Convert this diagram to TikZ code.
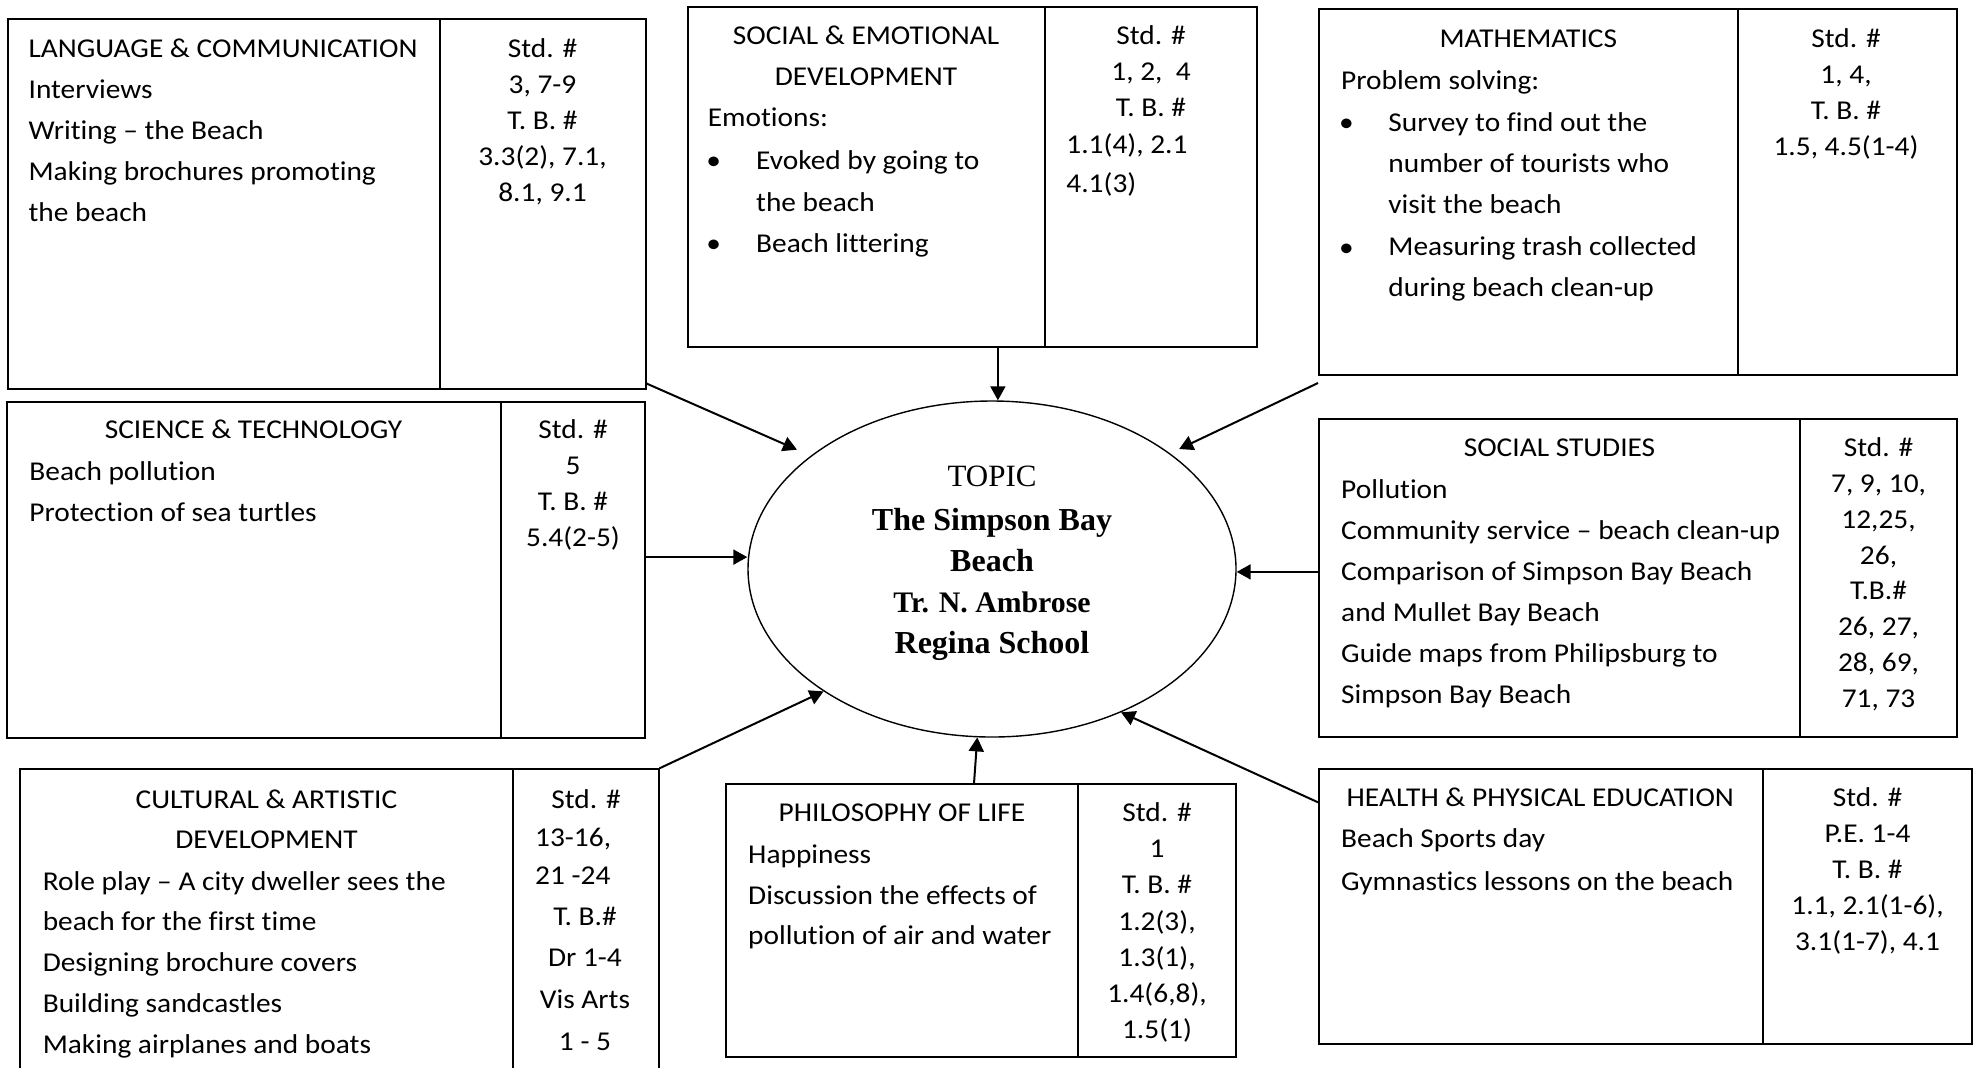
\documentclass[tikz,border=0pt]{standalone}
\usepackage{fontspec}
\setmainfont{Carlito}[FakeStretch=1.08,Ligatures=NoCommon]
\newfontfamily\serifface{Liberation Serif}
\usetikzlibrary{arrows.meta,shapes.geometric,fit}

% one text node per row: name prefix, anchor, x, first baseline y, row pitch, rows
\newcommand\textrows[6]{%
  \foreach \rowtext [count=\i from 0] in {#6}{%
    \node[txt,anchor=#2] (#1\i) at (#3,{#4+\i*#5}) {\rowtext};}}

\begin{document}
\begin{tikzpicture}[x=0.5pt,y=-0.5pt,
  box/.style={draw,line width=1pt,inner sep=0pt},
  txt/.style={inner sep=0pt,font=\fontsize{13.6}{16}\selectfont},
  ttl/.style={inner sep=0pt,anchor=base,font=\serifface\fontsize{15.5}{18}\selectfont},
  ttlbold/.style={ttl,font=\serifface\bfseries\fontsize{#1}{18}\selectfont},
  link/.style={line width=1pt,-{Triangle[length=7pt,width=7.5pt]}},
  dot/.style={txt,anchor=base}]
\useasboundingbox (0,0) rectangle (1973,1067);
\fill[white] (0,0) rectangle (1973,1067);

% ---- panels: subject column and standards column ----
\node[box,fit={(7.5,19.3) (440,388.5)}] (lang) {};
\node[box,fit={(440,19.3) (645.5,388.5)}] (langstd) {};
\node[box,fit={(687.6,7.3) (1045,346.7)}] (soc) {};
\node[box,fit={(1045,7.3) (1256.6,346.7)}] (socstd) {};
\node[box,fit={(1319,9.3) (1738,375)}] (math) {};
\node[box,fit={(1738,9.3) (1957,375)}] (mathstd) {};
\node[box,fit={(6.7,401.7) (501,737.7)}] (sci) {};
\node[box,fit={(501,401.7) (645,737.7)}] (scistd) {};
\node[box,fit={(1319,419.3) (1800,737.3)}] (ss) {};
\node[box,fit={(1800,419.3) (1957,737.3)}] (ssstd) {};
\node[box,fit={(20,769.3) (513.4,1090)}] (cul) {};
\node[box,fit={(513.4,769.3) (658.5,1090)}] (culstd) {};
\node[box,fit={(726,784.3) (1078,1056.7)}] (phil) {};
\node[box,fit={(1078,784.3) (1235.8,1056.7)}] (philstd) {};
\node[box,fit={(1319,769.3) (1763,1044)}] (hpe) {};
\node[box,fit={(1763,769.3) (1971.5,1044)}] (hpestd) {};

% ---- central topic ----
\node[draw,ellipse,line width=0.7pt,minimum width=244pt,minimum height=168pt,inner sep=0pt] (topic) at (992,569) {};
\node[ttl] (topichead) at (992,486.7) {TOPIC};
\node[ttlbold=16] (topicrow0) at (992,530) {The Simpson Bay};
\node[ttlbold=16] (topicrow1) at (992,571.1) {Beach};
\node[ttlbold=14.9] (topicrow2) at (992,612.2) {Tr. N. Ambrose};
\node[ttlbold=16] (topicrow3) at (992,653.3) {Regina School};

% ---- Language & Communication ----
\textrows{langrow}{base west}{28.2}{57.3}{41.1}{LANGUAGE \& COMMUNICATION,Interviews,Writing – the Beach,Making brochures promoting,the beach}
\textrows{langstdrow}{base}{542.5}{57.3}{36.1}{Std. \#,{3, 7-9},T. B. \#,{3.3(2), 7.1,},{8.1, 9.1}}

% ---- Social & Emotional Development ----
\textrows{socttl}{base}{866}{44}{41}{SOCIAL \& EMOTIONAL,DEVELOPMENT}
\node[txt,anchor=base west] (socintro) at (707.4,126.7) {Emotions:};
\node[dot] (socdotA) at (713.7,169.3) {•};
\node[dot] (socdotB) at (713.7,252.7) {•};
\textrows{socrow}{base west}{755.8}{169.3}{41.7}{Evoked by going to,the beach,Beach littering}
\textrows{socstdrow}{base}{1151}{44}{36.3}{Std. \#,{1, 2,~~4},T. B. \#}
\textrows{socstdlist}{base west}{1066}{153.3}{39.4}{{1.1(4), 2.1},4.1(3)}

% ---- Mathematics ----
\node[txt,anchor=base] (mathttl) at (1528.3,47.3) {MATHEMATICS};
\node[txt,anchor=base west] (mathintro) at (1340.8,89.3) {Problem solving:};
\node[dot] (mathdotA) at (1346.4,131.7) {•};
\node[dot] (mathdotB) at (1346.4,256) {•};
\textrows{mathrow}{base west}{1388}{131.7}{41.1}{Survey to find out the,number of tourists who,visit the beach,Measuring trash collected,during beach clean-up}
\textrows{mathstdrow}{base}{1846}{47.3}{35.9}{Std. \#,{1, 4,},T. B. \#,{1.5, 4.5(1-4)}}

% ---- Science & Technology ----
\node[txt,anchor=base] (scittl) at (253.5,438.3) {SCIENCE \& TECHNOLOGY};
\textrows{scirow}{base west}{29}{480}{41}{Beach pollution,Protection of sea turtles}
\textrows{scistdrow}{base}{573}{438.3}{36.1}{Std. \#,5,T. B. \#,5.4(2-5)}

% ---- Social Studies ----
\node[txt,anchor=base] (ssttl) at (1559.5,456.7) {SOCIAL STUDIES};
\textrows{ssrow}{base west}{1340.8}{498.3}{41}{Pollution,Community service – beach clean-up,Comparison of Simpson Bay Beach,and Mullet Bay Beach,Guide maps from Philipsburg to,Simpson Bay Beach}
\textrows{ssstdrow}{base}{1878.5}{456.7}{35.8}{Std. \#,{7, 9, 10,},{12,25,},{26,},T.B.\#,{26, 27,},{28, 69,},{71, 73}}

% ---- Cultural & Artistic Development ----
\textrows{culttl}{base}{266.5}{808.3}{40}{CULTURAL \& ARTISTIC,DEVELOPMENT}
\textrows{culrow}{base west}{42.4}{890}{40.8}{Role play – A city dweller sees the,beach for the first time,Designing brochure covers,Building sandcastles,Making airplanes and boats}
\node[txt,anchor=base] (culstdhead) at (586,808.3) {Std. \#};
\textrows{culstdlist}{base west}{534.8}{846}{38}{{13-16,},21 -24}
\textrows{culstdrow}{base}{585}{925}{41.7}{T. B.\#,Dr 1-4,Vis Arts,1 - 5}

% ---- Philosophy of Life ----
\node[txt,anchor=base] (philttl) at (902,821.7) {PHILOSOPHY OF LIFE};
\textrows{philrow}{base west}{747.8}{863.3}{40.8}{Happiness,Discussion the effects of,pollution of air and water}
\textrows{philstdrow}{base}{1157}{821.7}{36.1}{Std. \#,1,T. B. \#,{1.2(3),},{1.3(1),},{1.4(6,8),},{1.5(1)}}

% ---- Health & Physical Education ----
\node[txt,anchor=base] (hpettl) at (1540.3,806.7) {HEALTH \& PHYSICAL EDUCATION};
\textrows{hperow}{base west}{1340.8}{847.7}{42.3}{Beach Sports day,Gymnastics lessons on the beach}
\textrows{hpestdrow}{base}{1867.5}{806.7}{36}{Std. \#,P.E. 1-4,T. B. \#,{1.1, 2.1(1-6),},{3.1(1-7), 4.1}}

% ---- connectors into the topic ----
\coordinate (langout) at ([yshift=3pt]langstd.south east);
\coordinate (socout) at ([xshift=65.8pt]soc.south);
\coordinate (mathout) at ([yshift=-3.5pt]math.south west);
\coordinate (sciout) at ([yshift=6.3pt]scistd.east);
\coordinate (ssout) at ([yshift=3.2pt]ss.west);
\coordinate (philout) at ([xshift=36pt]phil.north);
\coordinate (hpeout) at ([yshift=-17pt]hpe.north west);

\draw[link,shorten >=7.5pt] (langout) -- (topic.148);
\draw[link] (socout) -- (socout |- topic.north);
\draw[link,shorten >=5pt] (mathout) -- (topic.33);
\draw[link] (sciout) -- (sciout -| topic.west);
\draw[link] (ssout) -- (ssout -| topic.east);
\draw[link] (culstd.north east) -- (topic.216);
\draw[link] (philout) -- (topic.265);
\draw[link] (hpeout) -- (topic.312);
\end{tikzpicture}
\end{document}
